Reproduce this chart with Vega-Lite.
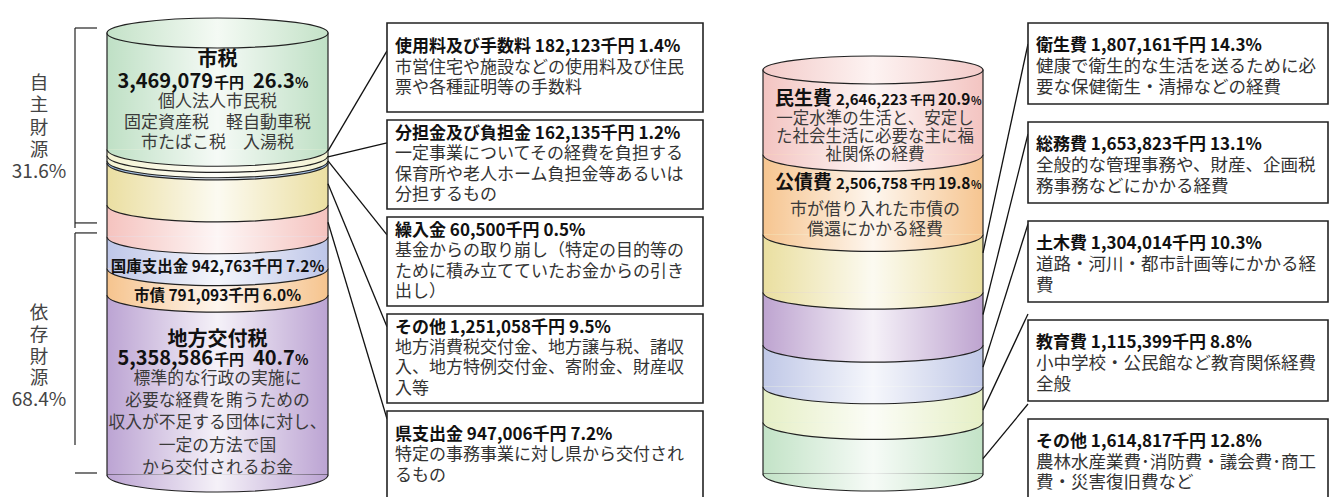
{
"$schema":"https://vega.github.io/schema/vega-lite/v6.json",
"padding":0,
"background":"white",
"spacing":0,
"config":{"view":{"stroke":null},"font":"Noto Sans CJK JP","text":{"font":"Noto Sans CJK JP"}},
"datasets":{
"items":[
{"side":"歳入","seq":1,"name":"市税","amount":3469079,"pct":26.3,"place":"main","group":"自主財源","label":"市税 3,469,079千円 26.3%","desc":["個人法人市民税","固定資産税　軽自動車税","市たばこ税　入湯税"]},
{"side":"歳入","seq":2,"name":"使用料及び手数料","amount":182123,"pct":1.4,"place":"box","group":"自主財源","label":"使用料及び手数料 182,123千円 1.4%","desc":["市営住宅や施設などの使用料及び住民","票や各種証明等の手数料"]},
{"side":"歳入","seq":3,"name":"分担金及び負担金","amount":162135,"pct":1.2,"place":"box","group":"自主財源","label":"分担金及び負担金 162,135千円 1.2%","desc":["一定事業についてその経費を負担する","保育所や老人ホーム負担金等あるいは","分担するもの"]},
{"side":"歳入","seq":4,"name":"繰入金","amount":60500,"pct":0.5,"place":"box","group":"自主財源","label":"繰入金 60,500千円 0.5%","desc":["基金からの取り崩し（特定の目的等の","ために積み立てていたお金からの引き","出し）"]},
{"side":"歳入","seq":5,"name":"その他","amount":1251058,"pct":9.5,"place":"box","group":"自主財源","label":"その他 1,251,058千円 9.5%","desc":["地方消費税交付金、地方譲与税、諸収","入、地方特例交付金、寄附金、財産収","入等"]},
{"side":"歳入","seq":6,"name":"県支出金","amount":947006,"pct":7.2,"place":"box","group":"依存財源","label":"県支出金 947,006千円 7.2%","desc":["特定の事務事業に対し県から交付され","るもの"]},
{"side":"歳入","seq":7,"name":"国庫支出金","amount":942763,"pct":7.2,"place":"band","group":"依存財源","label":"国庫支出金 942,763千円 7.2%","desc":[]},
{"side":"歳入","seq":8,"name":"市債","amount":791093,"pct":6.0,"place":"band","group":"依存財源","label":"市債 791,093千円 6.0%","desc":[]},
{"side":"歳入","seq":9,"name":"地方交付税","amount":5358586,"pct":40.7,"place":"main","group":"依存財源","label":"地方交付税 5,358,586千円 40.7%","desc":["標準的な行政の実施に","必要な経費を賄うための","収入が不足する団体に対し、","一定の方法で国","から交付されるお金"]},
{"side":"歳出","seq":1,"name":"民生費","amount":2646223,"pct":20.9,"place":"main","label":"民生費 2,646,223千円 20.9%","desc":["一定水準の生活と、安定し","た社会生活に必要な主に福","祉関係の経費"]},
{"side":"歳出","seq":2,"name":"公債費","amount":2506758,"pct":19.8,"place":"main","label":"公債費 2,506,758千円 19.8%","desc":["市が借り入れた市債の","償還にかかる経費"]},
{"side":"歳出","seq":3,"name":"衛生費","amount":1807161,"pct":14.3,"place":"box","label":"衛生費 1,807,161千円 14.3%","desc":["健康で衛生的な生活を送るために必","要な保健衛生・清掃などの経費"]},
{"side":"歳出","seq":4,"name":"総務費","amount":1653823,"pct":13.1,"place":"box","label":"総務費 1,653,823千円 13.1%","desc":["全般的な管理事務や、財産、企画税","務事務などにかかる経費"]},
{"side":"歳出","seq":5,"name":"土木費","amount":1304014,"pct":10.3,"place":"box","label":"土木費 1,304,014千円 10.3%","desc":["道路・河川・都市計画等にかかる経","費"]},
{"side":"歳出","seq":6,"name":"教育費","amount":1115399,"pct":8.8,"place":"box","label":"教育費 1,115,399千円 8.8%","desc":["小中学校・公民館など教育関係経費","全般"]},
{"side":"歳出","seq":7,"name":"その他","amount":1614817,"pct":12.8,"place":"box","label":"その他 1,614,817千円 12.8%","desc":["農林水産業費･消防費・議会費･商工","費・災害復旧費など"]}
],
"groups":[
{"group":"自主財源","chars":["自","主","財","源"],"share":0.316},
{"group":"依存財源","chars":["依","存","財","源"],"share":0.684}
]
},
"data":{"name":"items"},
"resolve":{"scale":{"fill":"independent"}},
"hconcat":[
{
"width":725,"height":497,
"resolve":{"scale":{"y":"independent"}},
"transform":[
{"filter":{"field":"side","equal":"歳入"}},
{"stack":"pct","groupby":[],"sort":[{"field":"seq","order":"ascending"}],"offset":"normalize","as":["s0","s1"]},
{"fold":["s0","s1"],"as":["edge","pos"]},
{"joinaggregate":[{"op":"mean","field":"pos","as":"mid"}],"groupby":["name"]},
{"filter":{"field":"edge","equal":"s0"}},
{"joinaggregate":[{"op":"count","as":"one"}],"groupby":["name"]},
{"stack":"one","groupby":["place"],"sort":[{"field":"seq","order":"ascending"}],"offset":"normalize","as":["b0","b1"]}
],
"layer":[
{"mark":{"type":"rect"},
 "encoding":{"x":{"datum":107,"type":"quantitative","scale":{"domain":[0,725],"nice":false,"zero":false},"axis":null},"x2":{"datum":328},
 "y":{"field":"s0","type":"quantitative","scale":{"domain":[-0.074661,1.049774],"reverse":true,"nice":false,"zero":false},"axis":null},"y2":{"field":"s1"},
 "fill":{"field":"name","type":"nominal","legend":null,"scale":{"domain":["市税","使用料及び手数料","分担金及び負担金","繰入金","その他","県支出金","国庫支出金","市債","地方交付税"],"range":["#bfe0c5","#f4f3d2","#f4f3d2","#8fb1dc","#ebdfa2","#f5c3bf","#bec6e8","#f6c48e","#bca4d3"]}}}},
{"transform":[{"aggregate":[{"op":"count","as":"n"}]}],
 "mark":{"type":"rect","fill":"transparent","stroke":"#222222","strokeWidth":1.2},
 "encoding":{"x":{"datum":107,"type":"quantitative","scale":{"domain":[0,725],"nice":false,"zero":false},"axis":null},"x2":{"datum":328},
 "y":{"datum":0,"type":"quantitative","scale":{"domain":[-0.074661,1.049774],"reverse":true,"nice":false,"zero":false},"axis":null},"y2":{"datum":1}}},
{"mark":{"type":"point","shape":"M-1,0C-1,0.085,-0.5523,0.1538,0,0.1538C0.5523,0.1538,1,0.085,1,0","size":48841,"filled":true,"opacity":1,"strokeWidth":0},
 "encoding":{"x":{"datum":217.5,"type":"quantitative","scale":{"domain":[0,725],"nice":false,"zero":false},"axis":null},
 "y":{"field":"s1","type":"quantitative","scale":{"domain":[-0.074661,1.049774],"reverse":true,"nice":false,"zero":false},"axis":null},
 "fill":{"field":"name","type":"nominal","legend":null,"scale":{"domain":["市税","使用料及び手数料","分担金及び負担金","繰入金","その他","県支出金","国庫支出金","市債","地方交付税"],"range":["#bfe0c5","#f4f3d2","#f4f3d2","#8fb1dc","#ebdfa2","#f5c3bf","#bec6e8","#f6c48e","#bca4d3"]}},
 "order":{"field":"seq","type":"quantitative","sort":"descending"}}},
{"transform":[{"aggregate":[{"op":"count","as":"n"}]}],
 "mark":{"type":"rect","fill":{"gradient":"linear","x1":0,"x2":1,"y1":0,"y2":0,"stops":[{"offset":0,"color":"rgba(255,255,255,0)"},{"offset":0.5,"color":"rgba(255,255,255,0.85)"},{"offset":1,"color":"rgba(255,255,255,0)"}]}},
 "encoding":{"x":{"datum":107,"type":"quantitative","scale":{"domain":[0,725],"nice":false,"zero":false},"axis":null},"x2":{"datum":328},
 "y":{"datum":0,"type":"quantitative","scale":{"domain":[-0.074661,1.049774],"reverse":true,"nice":false,"zero":false},"axis":null},"y2":{"datum":1}}},
{"transform":[{"aggregate":[{"op":"count","as":"n"}]}],
 "mark":{"type":"point","shape":"M-1,0C-1,0.085,-0.5523,0.1538,0,0.1538C0.5523,0.1538,1,0.085,1,0","size":48841,"filled":true,"opacity":1,"strokeWidth":0,
 "fill":{"gradient":"linear","x1":0,"x2":1,"y1":0,"y2":0,"stops":[{"offset":0,"color":"rgba(255,255,255,0)"},{"offset":0.5,"color":"rgba(255,255,255,0.85)"},{"offset":1,"color":"rgba(255,255,255,0)"}]}},
 "encoding":{"x":{"datum":217.5,"type":"quantitative","scale":{"domain":[0,725],"nice":false,"zero":false},"axis":null},
 "y":{"datum":1,"type":"quantitative","scale":{"domain":[-0.074661,1.049774],"reverse":true,"nice":false,"zero":false},"axis":null}}},
{"transform":[{"aggregate":[{"op":"count","as":"n"}]}],
 "mark":{"type":"point","shape":"M-1,0C-1,0.075,-0.5523,0.1357,0,0.1357C0.5523,0.1357,1,0.075,1,0C1,-0.075,0.5523,-0.1357,0,-0.1357C-0.5523,-0.1357,-1,-0.075,-1,0Z","size":48841,"filled":true,"opacity":1,"stroke":"#222222","strokeWidth":1.2,
 "fill":{"gradient":"linear","x1":0,"x2":1,"y1":0,"y2":0,"stops":[{"offset":0,"color":"#c4e2c8"},{"offset":0.5,"color":"#f4faf4"},{"offset":1,"color":"#c4e2c8"}]}},
 "encoding":{"x":{"datum":217.5,"type":"quantitative","scale":{"domain":[0,725],"nice":false,"zero":false},"axis":null},
 "y":{"datum":0,"type":"quantitative","scale":{"domain":[-0.074661,1.049774],"reverse":true,"nice":false,"zero":false},"axis":null}}},
{"mark":{"type":"point","shape":"M-1,0C-1,0.085,-0.5523,0.1538,0,0.1538C0.5523,0.1538,1,0.085,1,0","size":48841,"filled":false,"opacity":1,"stroke":"#222222","strokeWidth":1.2},
 "encoding":{"x":{"datum":217.5,"type":"quantitative","scale":{"domain":[0,725],"nice":false,"zero":false},"axis":null},
 "y":{"field":"s1","type":"quantitative","scale":{"domain":[-0.074661,1.049774],"reverse":true,"nice":false,"zero":false},"axis":null}}},

{"transform":[{"filter":{"field":"name","equal":"市税"}}],
 "mark":{"type":"text","fontSize":20,"fontWeight":"bold","align":"center","baseline":"middle","dy":-31,"color":"#111111"},
 "encoding":{"x":{"datum":217.5,"type":"quantitative","scale":{"domain":[0,725],"nice":false,"zero":false},"axis":null},
 "y":{"field":"mid","type":"quantitative","scale":{"domain":[-0.074661,1.049774],"reverse":true,"nice":false,"zero":false},"axis":null},
 "text":{"field":"name"}}},
{"transform":[{"filter":{"field":"name","equal":"市税"}}],
 "mark":{"type":"text","fontSize":20,"fontWeight":"bold","align":"right","baseline":"alphabetic","dy":-3,"color":"#111111"},
 "encoding":{"x":{"datum":213,"type":"quantitative","scale":{"domain":[0,725],"nice":false,"zero":false},"axis":null},
 "y":{"field":"mid","type":"quantitative","scale":{"domain":[-0.074661,1.049774],"reverse":true,"nice":false,"zero":false},"axis":null},
 "text":{"field":"amount","type":"quantitative","format":","}}},
{"transform":[{"filter":{"field":"name","equal":"市税"}}],
 "mark":{"type":"text","text":"千円","fontSize":15,"fontWeight":"bold","align":"left","baseline":"alphabetic","dy":-3,"color":"#111111"},
 "encoding":{"x":{"datum":214,"type":"quantitative","scale":{"domain":[0,725],"nice":false,"zero":false},"axis":null},
 "y":{"field":"mid","type":"quantitative","scale":{"domain":[-0.074661,1.049774],"reverse":true,"nice":false,"zero":false},"axis":null}}},
{"transform":[{"filter":{"field":"name","equal":"市税"}}],
 "mark":{"type":"text","fontSize":20,"fontWeight":"bold","align":"left","baseline":"alphabetic","dy":-3,"color":"#111111"},
 "encoding":{"x":{"datum":253,"type":"quantitative","scale":{"domain":[0,725],"nice":false,"zero":false},"axis":null},
 "y":{"field":"mid","type":"quantitative","scale":{"domain":[-0.074661,1.049774],"reverse":true,"nice":false,"zero":false},"axis":null},
 "text":{"field":"pct","type":"quantitative","format":".1f"}}},
{"transform":[{"filter":{"field":"name","equal":"市税"}}],
 "mark":{"type":"text","text":"%","fontSize":14,"fontWeight":"bold","align":"left","baseline":"alphabetic","dy":-3,"color":"#111111"},
 "encoding":{"x":{"datum":295,"type":"quantitative","scale":{"domain":[0,725],"nice":false,"zero":false},"axis":null},
 "y":{"field":"mid","type":"quantitative","scale":{"domain":[-0.074661,1.049774],"reverse":true,"nice":false,"zero":false},"axis":null}}},
{"transform":[{"filter":{"field":"name","equal":"市税"}}],
 "mark":{"type":"text","fontSize":17,"align":"center","baseline":"middle","dy":10.9,"lineHeight":20.7,"color":"#3a3a3a"},
 "encoding":{"x":{"datum":217.5,"type":"quantitative","scale":{"domain":[0,725],"nice":false,"zero":false},"axis":null},
 "y":{"field":"mid","type":"quantitative","scale":{"domain":[-0.074661,1.049774],"reverse":true,"nice":false,"zero":false},"axis":null},
 "text":{"field":"desc"}}},

{"transform":[{"filter":{"field":"name","equal":"地方交付税"}}],
 "mark":{"type":"text","fontSize":20,"fontWeight":"bold","align":"center","baseline":"middle","dy":-45,"color":"#111111"},
 "encoding":{"x":{"datum":217.5,"type":"quantitative","scale":{"domain":[0,725],"nice":false,"zero":false},"axis":null},
 "y":{"field":"mid","type":"quantitative","scale":{"domain":[-0.074661,1.049774],"reverse":true,"nice":false,"zero":false},"axis":null},
 "text":{"field":"name"}}},
{"transform":[{"filter":{"field":"name","equal":"地方交付税"}}],
 "mark":{"type":"text","fontSize":20,"fontWeight":"bold","align":"right","baseline":"alphabetic","dy":-20,"color":"#111111"},
 "encoding":{"x":{"datum":213,"type":"quantitative","scale":{"domain":[0,725],"nice":false,"zero":false},"axis":null},
 "y":{"field":"mid","type":"quantitative","scale":{"domain":[-0.074661,1.049774],"reverse":true,"nice":false,"zero":false},"axis":null},
 "text":{"field":"amount","type":"quantitative","format":","}}},
{"transform":[{"filter":{"field":"name","equal":"地方交付税"}}],
 "mark":{"type":"text","text":"千円","fontSize":15,"fontWeight":"bold","align":"left","baseline":"alphabetic","dy":-20,"color":"#111111"},
 "encoding":{"x":{"datum":214,"type":"quantitative","scale":{"domain":[0,725],"nice":false,"zero":false},"axis":null},
 "y":{"field":"mid","type":"quantitative","scale":{"domain":[-0.074661,1.049774],"reverse":true,"nice":false,"zero":false},"axis":null}}},
{"transform":[{"filter":{"field":"name","equal":"地方交付税"}}],
 "mark":{"type":"text","fontSize":20,"fontWeight":"bold","align":"left","baseline":"alphabetic","dy":-20,"color":"#111111"},
 "encoding":{"x":{"datum":253,"type":"quantitative","scale":{"domain":[0,725],"nice":false,"zero":false},"axis":null},
 "y":{"field":"mid","type":"quantitative","scale":{"domain":[-0.074661,1.049774],"reverse":true,"nice":false,"zero":false},"axis":null},
 "text":{"field":"pct","type":"quantitative","format":".1f"}}},
{"transform":[{"filter":{"field":"name","equal":"地方交付税"}}],
 "mark":{"type":"text","text":"%","fontSize":14,"fontWeight":"bold","align":"left","baseline":"alphabetic","dy":-20,"color":"#111111"},
 "encoding":{"x":{"datum":295,"type":"quantitative","scale":{"domain":[0,725],"nice":false,"zero":false},"axis":null},
 "y":{"field":"mid","type":"quantitative","scale":{"domain":[-0.074661,1.049774],"reverse":true,"nice":false,"zero":false},"axis":null}}},
{"transform":[{"filter":{"field":"name","equal":"地方交付税"}}],
 "mark":{"type":"text","fontSize":16.8,"align":"center","baseline":"middle","dy":-6,"lineHeight":22.2,"color":"#3a3a3a"},
 "encoding":{"x":{"datum":217.5,"type":"quantitative","scale":{"domain":[0,725],"nice":false,"zero":false},"axis":null},
 "y":{"field":"mid","type":"quantitative","scale":{"domain":[-0.074661,1.049774],"reverse":true,"nice":false,"zero":false},"axis":null},
 "text":{"field":"desc"}}},
{"transform":[{"filter":{"field":"place","equal":"band"}}],
 "mark":{"type":"text","fontSize":15.5,"fontWeight":"bold","align":"center","baseline":"middle","dy":14,"color":"#111111"},
 "encoding":{"x":{"datum":217.5,"type":"quantitative","scale":{"domain":[0,725],"nice":false,"zero":false},"axis":null},
 "y":{"field":"mid","type":"quantitative","scale":{"domain":[-0.074661,1.049774],"reverse":true,"nice":false,"zero":false},"axis":null},
 "text":{"field":"label"}}},

{"transform":[{"filter":{"field":"place","equal":"box"}}],
 "mark":{"type":"rule","stroke":"#111111","strokeWidth":1.3,"yOffset":26.7,"y2Offset":50.8},
 "encoding":{"x":{"datum":328,"type":"quantitative","scale":{"domain":[0,725],"nice":false,"zero":false},"axis":null},"x2":{"datum":387},
 "y":{"field":"mid","type":"quantitative","scale":{"domain":[0,1.080435],"reverse":true,"nice":false,"zero":false},"axis":null},
 "y2":{"field":"b0"}}},
{"transform":[{"filter":{"field":"place","equal":"box"}}],
 "mark":{"type":"rect","fill":"white","stroke":"#222222","strokeWidth":1.6,"y2Offset":-8},
 "encoding":{"x":{"datum":387,"type":"quantitative","scale":{"domain":[0,725],"nice":false,"zero":false},"axis":null},"x2":{"datum":703},
 "y":{"field":"b0","type":"quantitative","scale":{"domain":[-0.047423,0.97732],"reverse":true,"nice":false,"zero":false},"axis":null},
 "y2":{"field":"b1"}}},
{"transform":[{"filter":"datum.place == 'box' && length(datum.desc) == 2"}],
 "mark":{"type":"text","fontSize":17,"fontWeight":"bold","align":"left","baseline":"middle","dy":24,"color":"#111111"},
 "encoding":{"x":{"datum":395,"type":"quantitative","scale":{"domain":[0,725],"nice":false,"zero":false},"axis":null},
 "y":{"field":"b0","type":"quantitative","scale":{"domain":[-0.047423,0.97732],"reverse":true,"nice":false,"zero":false},"axis":null},
 "text":{"field":"label"}}},
{"transform":[{"filter":"datum.place == 'box' && length(datum.desc) == 3"}],
 "mark":{"type":"text","fontSize":17,"fontWeight":"bold","align":"left","baseline":"middle","dy":13.75,"color":"#111111"},
 "encoding":{"x":{"datum":395,"type":"quantitative","scale":{"domain":[0,725],"nice":false,"zero":false},"axis":null},
 "y":{"field":"b0","type":"quantitative","scale":{"domain":[-0.047423,0.97732],"reverse":true,"nice":false,"zero":false},"axis":null},
 "text":{"field":"label"}}},
{"transform":[{"filter":"datum.place == 'box' && length(datum.desc) == 2"}],
 "mark":{"type":"text","fontSize":17,"align":"left","baseline":"middle","dy":44.5,"lineHeight":20.5,"color":"#333333"},
 "encoding":{"x":{"datum":395,"type":"quantitative","scale":{"domain":[0,725],"nice":false,"zero":false},"axis":null},
 "y":{"field":"b0","type":"quantitative","scale":{"domain":[-0.047423,0.97732],"reverse":true,"nice":false,"zero":false},"axis":null},
 "text":{"field":"desc"}}},
{"transform":[{"filter":"datum.place == 'box' && length(datum.desc) == 3"}],
 "mark":{"type":"text","fontSize":17,"align":"left","baseline":"middle","dy":34,"lineHeight":20.5,"color":"#333333"},
 "encoding":{"x":{"datum":395,"type":"quantitative","scale":{"domain":[0,725],"nice":false,"zero":false},"axis":null},
 "y":{"field":"b0","type":"quantitative","scale":{"domain":[-0.047423,0.97732],"reverse":true,"nice":false,"zero":false},"axis":null},
 "text":{"field":"desc"}}},

{"transform":[{"filter":{"field":"group","equal":"自主財源"}},{"aggregate":[{"op":"min","field":"s0","as":"top"},{"op":"max","field":"s1","as":"bot"}],"groupby":["group"]}],
 "mark":{"type":"rule","stroke":"#222222","strokeWidth":1.2,"yOffset":-5,"y2Offset":23},
 "encoding":{"x":{"datum":75,"type":"quantitative","scale":{"domain":[0,725],"nice":false,"zero":false},"axis":null},
 "y":{"field":"top","type":"quantitative","scale":{"domain":[-0.074661,1.049774],"reverse":true,"nice":false,"zero":false},"axis":null},"y2":{"field":"bot"}}},
{"transform":[{"filter":{"field":"group","equal":"自主財源"}},{"aggregate":[{"op":"min","field":"s0","as":"top"},{"op":"max","field":"s1","as":"bot"}],"groupby":["group"]}],
 "mark":{"type":"rule","stroke":"#222222","strokeWidth":1.2,"yOffset":-5},
 "encoding":{"x":{"datum":75,"type":"quantitative","scale":{"domain":[0,725],"nice":false,"zero":false},"axis":null},"x2":{"datum":97},
 "y":{"field":"top","type":"quantitative","scale":{"domain":[-0.074661,1.049774],"reverse":true,"nice":false,"zero":false},"axis":null}}},
{"transform":[{"filter":{"field":"group","equal":"自主財源"}},{"aggregate":[{"op":"min","field":"s0","as":"top"},{"op":"max","field":"s1","as":"bot"}],"groupby":["group"]}],
 "mark":{"type":"rule","stroke":"#222222","strokeWidth":1.2,"yOffset":18},
 "encoding":{"x":{"datum":75,"type":"quantitative","scale":{"domain":[0,725],"nice":false,"zero":false},"axis":null},"x2":{"datum":97},
 "y":{"field":"bot","type":"quantitative","scale":{"domain":[-0.074661,1.049774],"reverse":true,"nice":false,"zero":false},"axis":null}}},
{"transform":[{"filter":{"field":"group","equal":"自主財源"}},{"aggregate":[{"op":"min","field":"s0","as":"top"},{"op":"max","field":"s1","as":"bot"}],"groupby":["group"]},{"lookup":"group","from":{"data":{"name":"groups"},"key":"group","fields":["chars","share"]}}],
 "mark":{"type":"text","fontSize":18.5,"align":"center","baseline":"middle","dy":50,"lineHeight":22.3,"color":"#444444"},
 "encoding":{"x":{"datum":39,"type":"quantitative","scale":{"domain":[0,725],"nice":false,"zero":false},"axis":null},
 "y":{"field":"top","type":"quantitative","scale":{"domain":[-0.074661,1.049774],"reverse":true,"nice":false,"zero":false},"axis":null},
 "text":{"field":"chars"}}},
{"transform":[{"filter":{"field":"group","equal":"自主財源"}},{"aggregate":[{"op":"min","field":"s0","as":"top"},{"op":"max","field":"s1","as":"bot"}],"groupby":["group"]},{"lookup":"group","from":{"data":{"name":"groups"},"key":"group","fields":["chars","share"]}}],
 "mark":{"type":"text","fontSize":19,"align":"center","baseline":"middle","dy":139,"color":"#444444"},
 "encoding":{"x":{"datum":39,"type":"quantitative","scale":{"domain":[0,725],"nice":false,"zero":false},"axis":null},
 "y":{"field":"top","type":"quantitative","scale":{"domain":[-0.074661,1.049774],"reverse":true,"nice":false,"zero":false},"axis":null},
 "text":{"field":"share","type":"quantitative","format":".1%"}}},
{"transform":[{"filter":{"field":"group","equal":"依存財源"}},{"aggregate":[{"op":"min","field":"s0","as":"top"},{"op":"max","field":"s1","as":"bot"}],"groupby":["group"]}],
 "mark":{"type":"rule","stroke":"#222222","strokeWidth":1.2,"yOffset":28,"y2Offset":-30},
 "encoding":{"x":{"datum":75,"type":"quantitative","scale":{"domain":[0,725],"nice":false,"zero":false},"axis":null},
 "y":{"field":"top","type":"quantitative","scale":{"domain":[-0.074661,1.049774],"reverse":true,"nice":false,"zero":false},"axis":null},"y2":{"field":"bot"}}},
{"transform":[{"filter":{"field":"group","equal":"依存財源"}},{"aggregate":[{"op":"min","field":"s0","as":"top"},{"op":"max","field":"s1","as":"bot"}],"groupby":["group"]}],
 "mark":{"type":"rule","stroke":"#222222","strokeWidth":1.2,"yOffset":28},
 "encoding":{"x":{"datum":75,"type":"quantitative","scale":{"domain":[0,725],"nice":false,"zero":false},"axis":null},"x2":{"datum":97},
 "y":{"field":"top","type":"quantitative","scale":{"domain":[-0.074661,1.049774],"reverse":true,"nice":false,"zero":false},"axis":null}}},
{"transform":[{"filter":{"field":"group","equal":"依存財源"}},{"aggregate":[{"op":"min","field":"s0","as":"top"},{"op":"max","field":"s1","as":"bot"}],"groupby":["group"]}],
 "mark":{"type":"rule","stroke":"#222222","strokeWidth":1.2,"yOffset":-2},
 "encoding":{"x":{"datum":75,"type":"quantitative","scale":{"domain":[0,725],"nice":false,"zero":false},"axis":null},"x2":{"datum":97},
 "y":{"field":"bot","type":"quantitative","scale":{"domain":[-0.074661,1.049774],"reverse":true,"nice":false,"zero":false},"axis":null}}},
{"transform":[{"filter":{"field":"group","equal":"依存財源"}},{"aggregate":[{"op":"min","field":"s0","as":"top"},{"op":"max","field":"s1","as":"bot"}],"groupby":["group"]},{"lookup":"group","from":{"data":{"name":"groups"},"key":"group","fields":["chars","share"]}}],
 "mark":{"type":"text","fontSize":18.5,"align":"center","baseline":"middle","dy":108,"lineHeight":21.8,"color":"#444444"},
 "encoding":{"x":{"datum":39,"type":"quantitative","scale":{"domain":[0,725],"nice":false,"zero":false},"axis":null},
 "y":{"field":"top","type":"quantitative","scale":{"domain":[-0.074661,1.049774],"reverse":true,"nice":false,"zero":false},"axis":null},
 "text":{"field":"chars"}}},
{"transform":[{"filter":{"field":"group","equal":"依存財源"}},{"aggregate":[{"op":"min","field":"s0","as":"top"},{"op":"max","field":"s1","as":"bot"}],"groupby":["group"]},{"lookup":"group","from":{"data":{"name":"groups"},"key":"group","fields":["chars","share"]}}],
 "mark":{"type":"text","fontSize":19,"align":"center","baseline":"middle","dy":195,"color":"#444444"},
 "encoding":{"x":{"datum":39,"type":"quantitative","scale":{"domain":[0,725],"nice":false,"zero":false},"axis":null},
 "y":{"field":"top","type":"quantitative","scale":{"domain":[-0.074661,1.049774],"reverse":true,"nice":false,"zero":false},"axis":null},
 "text":{"field":"share","type":"quantitative","format":".1%"}}}
]
},
{
"width":608,"height":497,
"resolve":{"scale":{"y":"independent"}},
"transform":[
{"filter":{"field":"side","equal":"歳出"}},
{"stack":"pct","groupby":[],"sort":[{"field":"seq","order":"ascending"}],"offset":"normalize","as":["s0","s1"]},
{"fold":["s0","s1"],"as":["edge","pos"]},
{"joinaggregate":[{"op":"mean","field":"pos","as":"mid"}],"groupby":["name"]},
{"filter":{"field":"edge","equal":"s0"}},
{"joinaggregate":[{"op":"count","as":"one"}],"groupby":["name"]},
{"stack":"one","groupby":["place"],"sort":[{"field":"seq","order":"ascending"}],"offset":"normalize","as":["b0","b1"]}
],
"layer":[
{"mark":{"type":"rect"},
 "encoding":{"x":{"datum":38,"type":"quantitative","scale":{"domain":[0,608],"nice":false,"zero":false},"axis":null},"x2":{"datum":258},
 "y":{"field":"s0","type":"quantitative","scale":{"domain":[-0.173267,1.056931],"reverse":true,"nice":false,"zero":false},"axis":null},"y2":{"field":"s1"},
 "fill":{"field":"name","type":"nominal","legend":null,"scale":{"domain":["民生費","公債費","衛生費","総務費","土木費","教育費","その他"],"range":["#f3c4c1","#f6c590","#eadfa0","#bea4d0","#c0c8e7","#e6efc6","#c3e3c7"]}}}},
{"transform":[{"aggregate":[{"op":"count","as":"n"}]}],
 "mark":{"type":"rect","fill":"transparent","stroke":"#222222","strokeWidth":1.2},
 "encoding":{"x":{"datum":38,"type":"quantitative","scale":{"domain":[0,608],"nice":false,"zero":false},"axis":null},"x2":{"datum":258},
 "y":{"datum":0,"type":"quantitative","scale":{"domain":[-0.173267,1.056931],"reverse":true,"nice":false,"zero":false},"axis":null},"y2":{"datum":1}}},
{"mark":{"type":"point","shape":"M-1,0C-1,0.0853,-0.5523,0.1545,0,0.1545C0.5523,0.1545,1,0.0853,1,0","size":48400,"filled":true,"opacity":1,"strokeWidth":0},
 "encoding":{"x":{"datum":148,"type":"quantitative","scale":{"domain":[0,608],"nice":false,"zero":false},"axis":null},
 "y":{"field":"s1","type":"quantitative","scale":{"domain":[-0.173267,1.056931],"reverse":true,"nice":false,"zero":false},"axis":null},
 "fill":{"field":"name","type":"nominal","legend":null,"scale":{"domain":["民生費","公債費","衛生費","総務費","土木費","教育費","その他"],"range":["#f3c4c1","#f6c590","#eadfa0","#bea4d0","#c0c8e7","#e6efc6","#c3e3c7"]}},
 "order":{"field":"seq","type":"quantitative","sort":"descending"}}},
{"transform":[{"aggregate":[{"op":"count","as":"n"}]}],
 "mark":{"type":"rect","fill":{"gradient":"linear","x1":0,"x2":1,"y1":0,"y2":0,"stops":[{"offset":0,"color":"rgba(255,255,255,0)"},{"offset":0.5,"color":"rgba(255,255,255,0.85)"},{"offset":1,"color":"rgba(255,255,255,0)"}]}},
 "encoding":{"x":{"datum":38,"type":"quantitative","scale":{"domain":[0,608],"nice":false,"zero":false},"axis":null},"x2":{"datum":258},
 "y":{"datum":0,"type":"quantitative","scale":{"domain":[-0.173267,1.056931],"reverse":true,"nice":false,"zero":false},"axis":null},"y2":{"datum":1}}},
{"transform":[{"aggregate":[{"op":"count","as":"n"}]}],
 "mark":{"type":"point","shape":"M-1,0C-1,0.0853,-0.5523,0.1545,0,0.1545C0.5523,0.1545,1,0.0853,1,0","size":48400,"filled":true,"opacity":1,"strokeWidth":0,
 "fill":{"gradient":"linear","x1":0,"x2":1,"y1":0,"y2":0,"stops":[{"offset":0,"color":"rgba(255,255,255,0)"},{"offset":0.5,"color":"rgba(255,255,255,0.85)"},{"offset":1,"color":"rgba(255,255,255,0)"}]}},
 "encoding":{"x":{"datum":148,"type":"quantitative","scale":{"domain":[0,608],"nice":false,"zero":false},"axis":null},
 "y":{"datum":1,"type":"quantitative","scale":{"domain":[-0.173267,1.056931],"reverse":true,"nice":false,"zero":false},"axis":null}}},
{"transform":[{"aggregate":[{"op":"count","as":"n"}]}],
 "mark":{"type":"point","shape":"M-1,0C-1,0.0703,-0.5523,0.1273,0,0.1273C0.5523,0.1273,1,0.0703,1,0C1,-0.0703,0.5523,-0.1273,0,-0.1273C-0.5523,-0.1273,-1,-0.0703,-1,0Z","size":48400,"filled":true,"opacity":1,"stroke":"#222222","strokeWidth":1.2,
 "fill":{"gradient":"linear","x1":0,"x2":1,"y1":0,"y2":0,"stops":[{"offset":0,"color":"#f3cbc9"},{"offset":0.5,"color":"#fdf3f2"},{"offset":1,"color":"#f3cbc9"}]}},
 "encoding":{"x":{"datum":148,"type":"quantitative","scale":{"domain":[0,608],"nice":false,"zero":false},"axis":null},
 "y":{"datum":0,"type":"quantitative","scale":{"domain":[-0.173267,1.056931],"reverse":true,"nice":false,"zero":false},"axis":null}}},
{"mark":{"type":"point","shape":"M-1,0C-1,0.0853,-0.5523,0.1545,0,0.1545C0.5523,0.1545,1,0.0853,1,0","size":48400,"filled":false,"opacity":1,"stroke":"#222222","strokeWidth":1.2},
 "encoding":{"x":{"datum":148,"type":"quantitative","scale":{"domain":[0,608],"nice":false,"zero":false},"axis":null},
 "y":{"field":"s1","type":"quantitative","scale":{"domain":[-0.173267,1.056931],"reverse":true,"nice":false,"zero":false},"axis":null}}},

{"transform":[{"filter":{"field":"place","equal":"main"}}],
 "mark":{"type":"text","fontSize":19,"fontWeight":"bold","align":"left","baseline":"alphabetic","dy":35,"color":"#111111"},
 "encoding":{"x":{"datum":50,"type":"quantitative","scale":{"domain":[0,608],"nice":false,"zero":false},"axis":null},
 "y":{"field":"s0","type":"quantitative","scale":{"domain":[-0.173267,1.056931],"reverse":true,"nice":false,"zero":false},"axis":null},
 "text":{"field":"name"}}},
{"transform":[{"filter":{"field":"place","equal":"main"}}],
 "mark":{"type":"text","fontSize":15,"fontWeight":"bold","align":"left","baseline":"alphabetic","dy":35,"color":"#111111"},
 "encoding":{"x":{"datum":111,"type":"quantitative","scale":{"domain":[0,608],"nice":false,"zero":false},"axis":null},
 "y":{"field":"s0","type":"quantitative","scale":{"domain":[-0.173267,1.056931],"reverse":true,"nice":false,"zero":false},"axis":null},
 "text":{"field":"amount","type":"quantitative","format":","}}},
{"transform":[{"filter":{"field":"place","equal":"main"}}],
 "mark":{"type":"text","text":"千円","fontSize":12.5,"fontWeight":"bold","align":"left","baseline":"alphabetic","dy":35,"color":"#111111"},
 "encoding":{"x":{"datum":185,"type":"quantitative","scale":{"domain":[0,608],"nice":false,"zero":false},"axis":null},
 "y":{"field":"s0","type":"quantitative","scale":{"domain":[-0.173267,1.056931],"reverse":true,"nice":false,"zero":false},"axis":null}}},
{"transform":[{"filter":{"field":"place","equal":"main"}}],
 "mark":{"type":"text","fontSize":15.5,"fontWeight":"bold","align":"left","baseline":"alphabetic","dy":35,"color":"#111111"},
 "encoding":{"x":{"datum":213,"type":"quantitative","scale":{"domain":[0,608],"nice":false,"zero":false},"axis":null},
 "y":{"field":"s0","type":"quantitative","scale":{"domain":[-0.173267,1.056931],"reverse":true,"nice":false,"zero":false},"axis":null},
 "text":{"field":"pct","type":"quantitative","format":".1f"}}},
{"transform":[{"filter":{"field":"place","equal":"main"}}],
 "mark":{"type":"text","text":"%","fontSize":11,"fontWeight":"bold","align":"left","baseline":"alphabetic","dy":35,"color":"#111111"},
 "encoding":{"x":{"datum":246,"type":"quantitative","scale":{"domain":[0,608],"nice":false,"zero":false},"axis":null},
 "y":{"field":"s0","type":"quantitative","scale":{"domain":[-0.173267,1.056931],"reverse":true,"nice":false,"zero":false},"axis":null}}},
{"transform":[{"filter":{"field":"name","equal":"民生費"}}],
 "mark":{"type":"text","fontSize":16.5,"align":"center","baseline":"middle","dy":49,"lineHeight":18,"color":"#3a3a3a"},
 "encoding":{"x":{"datum":150,"type":"quantitative","scale":{"domain":[0,608],"nice":false,"zero":false},"axis":null},
 "y":{"field":"s0","type":"quantitative","scale":{"domain":[-0.173267,1.056931],"reverse":true,"nice":false,"zero":false},"axis":null},
 "text":{"field":"desc"}}},
{"transform":[{"filter":{"field":"name","equal":"公債費"}}],
 "mark":{"type":"text","fontSize":17,"align":"center","baseline":"middle","dy":55.6,"lineHeight":20,"color":"#3a3a3a"},
 "encoding":{"x":{"datum":150,"type":"quantitative","scale":{"domain":[0,608],"nice":false,"zero":false},"axis":null},
 "y":{"field":"s0","type":"quantitative","scale":{"domain":[-0.173267,1.056931],"reverse":true,"nice":false,"zero":false},"axis":null},
 "text":{"field":"desc"}}},

{"transform":[{"filter":{"field":"place","equal":"box"}}],
 "mark":{"type":"rule","stroke":"#111111","strokeWidth":1.3,"yOffset":37.5,"y2Offset":44},
 "encoding":{"x":{"datum":258,"type":"quantitative","scale":{"domain":[0,608],"nice":false,"zero":false},"axis":null},"x2":{"datum":303},
 "y":{"field":"mid","type":"quantitative","scale":{"domain":[0,1.104444],"reverse":true,"nice":false,"zero":false},"axis":null},
 "y2":{"field":"b0"}}},
{"transform":[{"filter":{"field":"place","equal":"box"}}],
 "mark":{"type":"rect","fill":"white","stroke":"#222222","strokeWidth":1.6,"y2Offset":-18},
 "encoding":{"x":{"datum":303,"type":"quantitative","scale":{"domain":[0,608],"nice":false,"zero":false},"axis":null},"x2":{"datum":603},
 "y":{"field":"b0","type":"quantitative","scale":{"domain":[-0.046465,0.957576],"reverse":true,"nice":false,"zero":false},"axis":null},
 "y2":{"field":"b1"}}},
{"transform":[{"filter":{"field":"place","equal":"box"}}],
 "mark":{"type":"text","fontSize":17,"fontWeight":"bold","align":"left","baseline":"middle","dy":23,"color":"#111111"},
 "encoding":{"x":{"datum":311,"type":"quantitative","scale":{"domain":[0,608],"nice":false,"zero":false},"axis":null},
 "y":{"field":"b0","type":"quantitative","scale":{"domain":[-0.046465,0.957576],"reverse":true,"nice":false,"zero":false},"axis":null},
 "text":{"field":"label"}}},
{"transform":[{"filter":{"field":"place","equal":"box"}}],
 "mark":{"type":"text","fontSize":17.5,"align":"left","baseline":"middle","dy":44,"lineHeight":20.5,"color":"#333333"},
 "encoding":{"x":{"datum":311,"type":"quantitative","scale":{"domain":[0,608],"nice":false,"zero":false},"axis":null},
 "y":{"field":"b0","type":"quantitative","scale":{"domain":[-0.046465,0.957576],"reverse":true,"nice":false,"zero":false},"axis":null},
 "text":{"field":"desc"}}}
]
}
]
}
